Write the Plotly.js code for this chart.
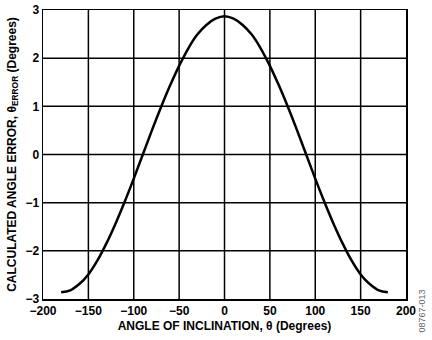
<!DOCTYPE html>
<html>
<head>
<meta charset="utf-8">
<script src="https://cdn.plot.ly/plotly-3.0.1.min.js"></script>
<style>html,body{margin:0;padding:0;background:#fff;}#chart{width:432px;height:340px;}</style>
</head>
<body>
<div id="chart"></div>
<script>
var angleDeg = [-180,-170,-160,-150,-140,-130,-120,-110,-100,-90,-80,-70,-60,-50,-40,-30,-20,-10,0,10,20,30,40,50,60,70,80,90,100,110,120,130,140,150,160,170,180];
var angleError = [-2.86,-2.82,-2.69,-2.49,-2.2,-1.84,-1.43,-0.98,-0.5,0.0,0.5,0.98,1.43,1.84,2.2,2.49,2.69,2.82,2.87,2.82,2.69,2.49,2.2,1.84,1.43,0.98,0.5,0.0,-0.5,-0.98,-1.43,-1.84,-2.2,-2.49,-2.69,-2.82,-2.86];
var xTicks = [-200,-150,-100,-50,0,50,100,150,200];
var xTickText = ['\u2212200','\u2212150','\u2212100','\u221250','0','50','100','150','200'];
var yTicks = [-3,-2,-1,0,1,2,3];
var yTickText = ['\u22123','\u22122','\u22121','0','1','2','3'];

var font = 'Liberation Sans, Arial, sans-serif';
var gridShapes = [];
xTicks.slice(1, -1).forEach(function (v) {
  gridShapes.push({type: 'line', xref: 'x', yref: 'paper', x0: v, x1: v, y0: 0, y1: 1, layer: 'below', line: {color: '#000', width: 1.5}});
});
yTicks.slice(1, -1).forEach(function (v) {
  gridShapes.push({type: 'line', xref: 'paper', yref: 'y', x0: 0, x1: 1, y0: v, y1: v, layer: 'below', line: {color: '#000', width: 1.5}});
});

Plotly.newPlot('chart', [{
  x: angleDeg, y: angleError, type: 'scatter', mode: 'lines',
  line: {color: '#000', width: 2.5, shape: 'spline', smoothing: 1}
}], {
  width: 432, height: 340,
  margin: {l: 43, r: 26, t: 10, b: 41},
  paper_bgcolor: '#fff', plot_bgcolor: '#fff',
  showlegend: false,
  font: {family: font, color: '#000'},
  shapes: gridShapes,
  xaxis: {
    range: [-200, 200], tickvals: xTicks, ticktext: xTickText,
    showgrid: false, zeroline: false,
    showline: true, linecolor: '#000', linewidth: 1.5, mirror: true,
    ticks: '', ticklen: 0,
    tickfont: {family: font, size: 12, color: '#000', weight: 'bold'},
    title: {text: '<b>ANGLE OF INCLINATION, θ (Degrees)</b>', font: {family: font, size: 12, color: '#000'}, standoff: 4}
  },
  yaxis: {
    range: [-3, 3], tickvals: yTicks, ticktext: yTickText,
    showgrid: false, zeroline: false,
    showline: true, linecolor: '#000', linewidth: 1.5, mirror: true,
    ticks: '', ticklen: 0,
    tickfont: {family: font, size: 12, color: '#000', weight: 'bold'},
    title: {text: '<b>CALCULATED ANGLE ERROR, θ<sub>ERROR</sub> (Degrees)</b>', font: {family: font, size: 12, color: '#000'}, standoff: 6}
  },
  annotations: [{
    text: '08767-013', xref: 'paper', yref: 'paper', x: 1, y: 0, xanchor: 'left', yanchor: 'bottom',
    xshift: 8, yshift: -36,
    textangle: -90, showarrow: false,
    font: {family: font, size: 9, color: '#666'}
  }]
}, {displayModeBar: false, staticPlot: true});
</script>
</body>
</html>
